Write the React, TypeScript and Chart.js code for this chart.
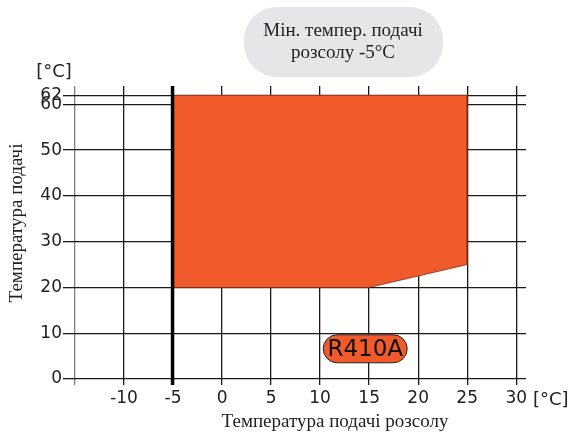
import React, { useEffect, useRef } from "react";
import { Chart, registerables } from "chart.js";

Chart.register(...registerables);

// Operating envelope: brine supply temperature (x) vs supply temperature (y)
const envelopeX = [-5, -5, 25, 25, 15, -5];
const envelopeY = [20, 62, 62, 25, 20, 20];

const xTicks = [-15, -10, -5, 0, 5, 10, 15, 20, 25, 30];
const yTicks = [0, 10, 20, 30, 40, 50, 60, 62];

const minBrineTemp = -5;
const refrigerant = "R410A";
const refrigerantAt = { x: 14.6, y: 6.6 };
const noteLines = ["Мін. темпер. подачі", "розсолу -5°C"];
const xTitle = "Температура подачі розсолу";
const yTitle = "Температура подачі";
const unit = "[°C]";

const ORANGE = "#F15A2B";
const SANS = "'DejaVu Sans', sans-serif";
const SERIF = "'Liberation Serif', serif";

function roundRect(ctx: CanvasRenderingContext2D, x: number, y: number, w: number, h: number, r: number) {
  ctx.beginPath();
  ctx.moveTo(x + r, y);
  ctx.lineTo(x + w - r, y);
  ctx.arc(x + w - r, y + r, r, -Math.PI / 2, 0);
  ctx.lineTo(x + w, y + h - r);
  ctx.arc(x + w - r, y + h - r, r, 0, Math.PI / 2);
  ctx.lineTo(x + r, y + h);
  ctx.arc(x + r, y + h - r, r, Math.PI / 2, Math.PI);
  ctx.lineTo(x, y + r);
  ctx.arc(x + r, y + r, r, Math.PI, Math.PI * 1.5);
  ctx.closePath();
}

const decorations = {
  id: "decorations",
  afterDatasetsDraw(chart: any) {
    const { ctx, chartArea, scales } = chart;
    const xs = scales.x;
    const ys = scales.y;
    ctx.save();

    // thick minimum-temperature limit line
    const lx = xs.getPixelForValue(minBrineTemp);
    ctx.strokeStyle = "#000";
    ctx.lineWidth = 3.5;
    ctx.beginPath();
    ctx.moveTo(lx - 0.5, chartArea.top);
    ctx.lineTo(lx - 0.5, chartArea.bottom + 6);
    ctx.stroke();

    // refrigerant tag
    const cx = xs.getPixelForValue(refrigerantAt.x);
    const cy = ys.getPixelForValue(refrigerantAt.y);
    const w = 84, h = 28;
    roundRect(ctx, cx - w / 2, cy - h / 2, w, h, h / 2);
    ctx.fillStyle = ORANGE;
    ctx.fill();
    ctx.lineWidth = 1;
    ctx.strokeStyle = "#222";
    ctx.stroke();
    ctx.fillStyle = "#111";
    ctx.font = `23px ${SANS}`;
    ctx.textAlign = "center";
    ctx.textBaseline = "middle";
    ctx.fillText(refrigerant, cx, cy + 1);

    // note box
    roundRect(ctx, 244, 7, 199, 70, 33);
    ctx.fillStyle = "#e6e6e8";
    ctx.fill();
    ctx.fillStyle = "#222";
    ctx.font = `19px ${SERIF}`;
    ctx.textBaseline = "alphabetic";
    ctx.fillText(noteLines[0], 343, 36);
    ctx.fillText(noteLines[1], 343, 58);

    // units
    ctx.font = `18px ${SANS}`;
    ctx.fillStyle = "#222";
    ctx.textAlign = "center";
    ctx.fillText(unit, 54, 77);
    ctx.textAlign = "left";
    ctx.fillText(unit, 533, 405);

    // axis titles
    ctx.font = `19px ${SERIF}`;
    ctx.textAlign = "center";
    ctx.fillText(xTitle, 335, 427);
    ctx.translate(22, 223);
    ctx.rotate(-Math.PI / 2);
    ctx.fillText(yTitle, 0, 0);
    ctx.restore();
  },
};

export default function App() {
  const ref = useRef<HTMLCanvasElement>(null);

  useEffect(() => {
    if (!ref.current) return;
    const chart = new Chart(ref.current, {
      type: "scatter",
      data: {
        datasets: [
          {
            data: envelopeX.map((x, i) => ({ x, y: envelopeY[i] })),
            showLine: true,
            fill: "shape",
            backgroundColor: ORANGE,
            borderColor: "#7a3018",
            borderWidth: 0.8,
            pointRadius: 0,
            tension: 0,
          },
        ],
      },
      options: {
        animation: false,
        responsive: false,
        maintainAspectRatio: false,
        layout: { padding: { top: 86, right: 44, left: 0, bottom: 0 } },
        plugins: { legend: { display: false }, tooltip: { enabled: false } },
        scales: {
          x: {
            type: "linear",
            min: -15,
            max: 31,
            afterBuildTicks: (s: any) => {
              s.ticks = xTicks.map((v) => ({ value: v }));
            },
            afterFit: (s: any) => {
              s.height = 53;
            },
            border: { display: false },
            grid: {
              color: (c: any) => (c.tick && c.tick.value === -15 ? "#808080" : "#1a1a1a"),
              lineWidth: 1.3,
              tickLength: 6,
            },
            ticks: {
              autoSkip: false,
              maxRotation: 0,
              padding: 3,
              color: "#222",
              font: { family: SANS, size: 17 },
              callback: (v: any) => (v === -15 ? "" : String(v)),
            },
          },
          y: {
            type: "linear",
            min: 0,
            max: 64,
            afterBuildTicks: (s: any) => {
              s.ticks = yTicks.map((v) => ({ value: v }));
            },
            afterFit: (s: any) => {
              s.width = 75;
            },
            border: { display: false },
            grid: { color: "#1a1a1a", lineWidth: 1.3, tickLength: 12 },
            ticks: {
              autoSkip: false,
              padding: 1,
              color: "#222",
              font: { family: SANS, size: 17, lineHeight: 1 },
              callback: (v: any) => String(v),
            },
          },
        },
      },
      plugins: [decorations],
    });
    return () => chart.destroy();
  }, []);

  return (
    <div style={{ position: "fixed", left: 0, top: 0, width: 570, height: 432, background: "#fff" }}>
      <canvas ref={ref} width={570} height={432} style={{ display: "block" }} />
    </div>
  );
}
